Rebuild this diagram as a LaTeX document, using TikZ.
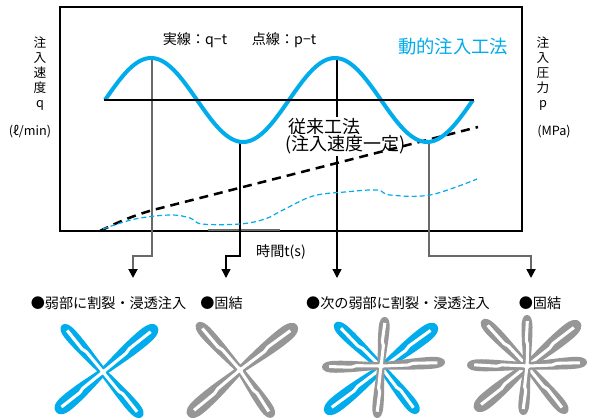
\documentclass[tikz,border=0pt]{standalone}
\usepackage{fontspec}
\setmainfont{Noto Sans CJK JP}
\usetikzlibrary{arrows.meta}

\definecolor{wave}{RGB}{0,172,236}
\definecolor{dropgray}{RGB}{105,105,105}
\definecolor{bladegray}{RGB}{150,150,150}

\tikzset{
  frame/.style={line width=1.5pt, line join=miter},
  qwave/.style={draw=wave, line width=3pt},
  baseline/.style={line width=2.2pt},
  drop/.style={line width=1pt, -{Triangle[width=6.75pt,length=6.75pt,color=black]}},
  dropg/.style={drop, draw=dropgray, line width=1.4pt},
  pconv/.style={line width=1.9pt, dash pattern=on 6.75pt off 4.5pt},
  pdyn/.style={draw=wave, line width=0.9pt, dash pattern=on 3.75pt off 2.25pt},
  lbl/.style={inner sep=0pt, font=\fontsize{10.6}{12}\selectfont},
  axlbl/.style={inner sep=0pt, anchor=base, font=\fontsize{9.5}{11}\selectfont},
  big/.style={inner sep=0pt, font=\fontsize{13.5}{14}\selectfont},
  vein/.style={draw=white, line width=2.3pt, line join=round},
}

% one blade of a fracture mark: base (x,y), tip (x,y), half width, part (0 = body, 1 = white vein)
\def\petalcol{wave}
\newcommand\petal[6]{%
  \pgfmathsetmacro\pang{atan2(#2-#4,#3-#1)}%
  \pgfmathsetmacro\plen{veclen(#3-#1,#4-#2)}%
  \begin{scope}[shift={(#1,#2)},rotate=\pang]
    \ifnum#6=0
      \fill[fill=\petalcol] (-3,-3.5) .. controls (0.3*\plen,-0.75*#5) and (0.5*\plen,-#5) .. (0.76*\plen,-#5)
        .. controls (0.93*\plen,-#5) and (\plen,-0.6*#5) .. (\plen,0)
        .. controls (\plen,0.6*#5) and (0.93*\plen,#5) .. (0.76*\plen,#5)
        .. controls (0.5*\plen,#5) and (0.3*\plen,0.75*#5) .. (-3,3.5) -- cycle;
    \else
      \draw[vein] (-3,0) -- (0.42*\plen,0.7) -- (0.5*\plen,-0.7) -- (0.88*\plen,0.3);
    \fi
  \end{scope}}

\begin{document}
\begin{tikzpicture}[x=0.75pt,y=-0.75pt]
\useasboundingbox (0,0) rectangle (591,420);
\fill[white] (0,0) rectangle (591,420);

% chart frame and time axis
\draw[frame] (60,7) rectangle (522,231);
\draw[draw=dropgray, line width=1.3pt] (208,230) -- (280,230);

% points picked off the injection-rate wave and arrow ends
\coordinate (pk1) at (152,58);
\coordinate (k1) at (152,256);
\coordinate (a1) at (133,278);
\coordinate (tr1) at (240,143);
\coordinate (k2) at (240,256);
\coordinate (a2) at (226,278);
\coordinate (pk2) at (337,58);
\coordinate (a3) at (337,278);
\coordinate (tr2) at (429,142);
\coordinate (k4) at (429,256);
\coordinate (a4) at (531,278);

\draw[dropg] (pk1) -- (k1) -| (a1);
\draw[drop] (tr1) -- (k2) -| (a2);
\draw[drop] (pk2) -- (a3);
\draw[dropg] (tr2) -- (k4) -| (a4);

% conventional method label, masking the drop line behind it
\node[big, anchor=west, fill=white, inner sep=1.5pt] (conv1) at (286,127) {従来工法};
\node[big, anchor=west, fill=white, inner sep=1.5pt] (conv2) at (283,145) {(注入速度一定)};

% pressure curves: conventional (black) and dynamic (blue)
\draw[pconv] (100,231) .. controls (118,222) and (135,215) .. (153,210) -- (478,127);
\draw[pdyn] plot[smooth, tension=0.6] coordinates {(103,229) (135,219) (170,215) (190,218) (202,224)
  (240,224) (265,219) (283,210) (313,196) (345,192) (377,190) (390,195) (430,195) (477,179)};

% injection rate: dynamic (sine) and conventional (constant)
\draw[qwave] plot[domain=105:473, samples=160, smooth] (\x,{100-42*sin(1.956522*(\x-105))});
\draw[baseline] (104,100) -- (474,100);

% titles and axes
\node[lbl] (solid) at (195,40) {実線：q−t};
\node[lbl] (dotted) at (284,40) {点線：p−t};
\node[big, text=wave, font=\fontsize{13.75}{14}\selectfont] (dyn) at (453,47) {動的注入工法};
\node[lbl] (tlabel) at (281,252) {時間t(s)};

\foreach \c [count=\i] in {注,入,速,度,q}
  \node[axlbl] (ql\i) at (40,32.8+15*\i) {\c};
\node[axlbl] (qunit) at (30,136) {(ℓ/min)};
\foreach \c [count=\i] in {注,入,圧,力,p}
  \node[axlbl] (pl\i) at (543,32.8+15*\i) {\c};
\node[axlbl] (punit) at (554,136) {(MPa)};

% stage captions
\node[lbl] (s1) at (108.5,303) {●弱部に割裂・浸透注入};
\node[lbl] (s2) at (221.5,303) {●固結};
\node[lbl] (s3) at (398,303) {●次の弱部に割裂・浸透注入};
\node[lbl] (s4) at (540,303) {●固結};

% stage 1: fractured cross, grout
\def\petalcol{wave}
\foreach \p in {0,1}{
  \petal{103}{372}{62}{325}{6.5}{\p}
  \petal{103}{372}{157}{326}{8}{\p}
  \petal{103}{372}{56}{412}{8}{\p}
  \petal{103}{372}{142}{417}{6.5}{\p}
}

% stage 2: cross set
\def\petalcol{bladegray}
\foreach \p in {0,1}{
  \petal{240}{370}{197}{323}{6.5}{\p}
  \petal{240}{370}{297}{325}{8}{\p}
  \petal{240}{370}{188}{416}{8}{\p}
  \petal{240}{370}{273}{417}{6.5}{\p}
}

% stage 3: new fractures through the set cross
\def\petalcol{wave}
\foreach \p in {0,1}{
  \petal{382}{368}{335}{323}{6.5}{\p}
  \petal{382}{368}{437}{325}{8}{\p}
  \petal{382}{368}{325}{413}{8}{\p}
  \petal{382}{368}{418}{413}{6.5}{\p}
}
\def\petalcol{bladegray}
\foreach \p in {0,1}{
  \petal{381}{366}{385}{317}{5.5}{\p}
  \petal{381}{366}{377}{418}{5.5}{\p}
  \petal{381}{366}{322}{367}{6}{\p}
  \petal{381}{366}{445}{362}{6}{\p}
}

% stage 4: all set
\def\petalcol{bladegray}
\foreach \p in {0,1}{
  \petal{527}{366}{482}{320}{6.5}{\p}
  \petal{527}{366}{580}{322}{8}{\p}
  \petal{527}{366}{475}{410}{8}{\p}
  \petal{527}{366}{567}{413}{6.5}{\p}
}
\foreach \p in {0,1}{
  \petal{527}{366}{527}{315}{5.5}{\p}
  \petal{527}{366}{523}{415}{5.5}{\p}
  \petal{527}{366}{467}{365}{6}{\p}
  \petal{527}{366}{587}{362}{6}{\p}
}
\end{tikzpicture}
\end{document}
